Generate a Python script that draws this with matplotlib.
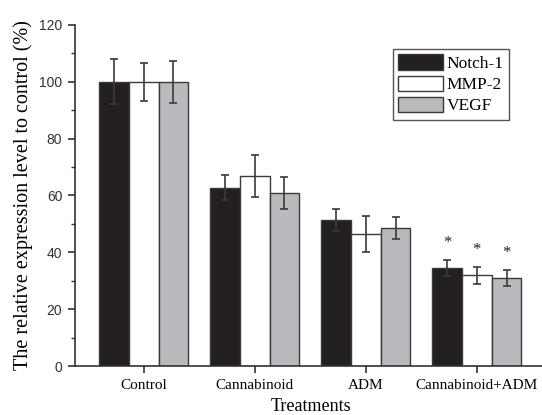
import numpy as np
import matplotlib.pyplot as plt

categories = ['Control', 'Cannabinoid', 'ADM', 'Cannabinoid+ADM']
series = ['Notch-1', 'MMP-2', 'VEGF']
notch = [100, 62.7, 51.4, 34.5]
mmp2 = [100, 66.9, 46.5, 31.9]
vegf = [100, 60.9, 48.7, 30.9]
notch_err = [8.0, 4.4, 3.9, 2.7]
mmp2_err = [6.6, 7.3, 6.4, 3.0]
vegf_err = [7.4, 5.7, 3.9, 2.8]
stars = ['', '', '', '*']

colors = ['#231f20', '#ffffff', '#b9babd']
edge = '#3a3a3a'

fig = plt.figure(figsize=(5.42, 4.15), dpi=100)
ax = fig.add_axes([0.138, 0.118, 0.862, 0.822])

x = np.arange(len(categories))
w = 0.268
vals = [notch, mmp2, vegf]
errs = [notch_err, mmp2_err, vegf_err]
for i, (v, e) in enumerate(zip(vals, errs)):
    pos = x + (i - 1) * w
    ax.bar(pos, v, w, color=colors[i], edgecolor=edge, linewidth=1.0,
           label=series[i], zorder=2)
    ax.errorbar(pos, v, yerr=e, fmt='none', ecolor='#3a3a3a',
                elinewidth=1.2, capsize=3, capthick=1.2, zorder=3)
    for j in range(len(categories)):
        if stars[j]:
            ax.text(pos[j], v[j] + e[j] + 6, stars[j], ha='center', va='center',
                    fontsize=12, family='Liberation Serif', color='#222222')

ax.set_xlim(-0.62, 3.587)
ax.set_ylim(0, 120)
ax.set_yticks(np.arange(0, 121, 20))
ax.set_yticks(np.arange(10, 120, 20), minor=True)
ax.set_xticks(x)
ax.set_xticklabels(categories, family='Liberation Serif', fontsize=11)
for lab in ax.get_yticklabels():
    lab.set_family('Liberation Sans')
    lab.set_fontsize(10)
    lab.set_color('#333333')
ax.tick_params(axis='both', which='major', length=5, width=1.2, color='#333333')
ax.tick_params(axis='y', which='minor', length=3, width=1.0, color='#333333')
ax.tick_params(axis='x', pad=4)
ax.tick_params(axis='y', pad=4)
ax.spines['top'].set_visible(False)
ax.spines['right'].set_visible(False)
for s in ['left', 'bottom']:
    ax.spines[s].set_linewidth(1.2)
    ax.spines[s].set_color('#333333')

fig.text(0.573, 0.0, 'Treatments', ha='center', va='bottom',
         family='Liberation Serif', fontsize=13)
ax.set_ylabel('The relative expression level to control (%)',
              family='Liberation Serif', fontsize=14.5, labelpad=4)

leg = ax.legend(loc='upper right', bbox_to_anchor=(0.929, 0.929),
                prop={'family': 'Liberation Serif', 'size': 12.5},
                fancybox=False, framealpha=1, edgecolor='#555555',
                handlelength=2.6, handleheight=1.0, handletextpad=0.2,
                labelspacing=0.2, borderpad=0.3, borderaxespad=0)
leg.get_frame().set_linewidth(1.0)

fig.savefig('out.png', dpi=100)
